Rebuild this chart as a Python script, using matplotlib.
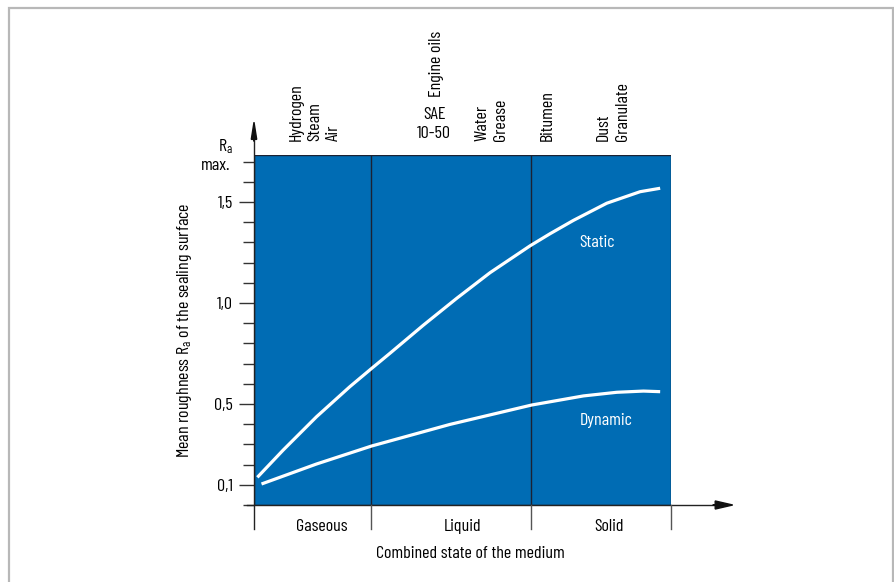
import matplotlib
matplotlib.use("Agg")
import matplotlib.pyplot as plt
from matplotlib.patches import Rectangle, FancyArrow
from matplotlib.ticker import FixedLocator, FixedFormatter

font = 'Barlow Condensed'
plt.rcParams['font.family'] = [font, 'DejaVu Sans']
plt.rcParams['mathtext.fontset'] = 'custom'
plt.rcParams['mathtext.rm'] = font
plt.rcParams['mathtext.it'] = font

# --- datos ---
static_x = [0.08, 0.70, 1.50, 2.30, 2.82, 3.26, 4.06, 4.86, 5.66, 6.62, 7.10, 7.66, 8.46, 9.26, 9.74]
static_y = [0.137, 0.272, 0.437, 0.586, 0.676, 0.751, 0.890, 1.023, 1.150, 1.283, 1.343,
            1.409, 1.494, 1.551, 1.568]
dynamic_x = [0.18, 1.50, 2.82, 4.70, 6.66, 7.90, 8.70, 9.34, 9.74]
dynamic_y = [0.104, 0.203, 0.292, 0.399, 0.495, 0.540, 0.558, 0.564, 0.561]

region_edges = [0, 2.81, 6.64, 10]
region_names = ['Gaseous', 'Liquid', 'Solid']
region_label_x = [1.63, 4.99, 8.51]

ytick_vals = [0.1, 0.5, 1.0, 1.5]
ytick_labels = ['0,1', '0,5', '1,0', '1,5']
yminor_vals = [0.0, 0.2, 0.3, 0.4, 0.6, 0.7, 0.8, 0.9, 1.1, 1.2, 1.3, 1.4, 1.6, 1.7]

blue = '#006cb4'
dark = '#1b2233'
W, H = 894, 582
fs = 13

def fx(px):
    return px / W

def fy(py):
    return 1 - py / H

fig = plt.figure(figsize=(W / 100, H / 100), dpi=100)
fig.patch.set_facecolor('white')

# marco gris
fig.patches.append(Rectangle((fx(9), fy(600)), fx(893) - fx(9), fy(8) - fy(600),
                             transform=fig.transFigure, fill=False,
                             edgecolor='#b8b8b8', lw=1.6))

ax = fig.add_axes([fx(254), fy(505), fx(671) - fx(254), fy(155) - fy(505)])
top = 350 / 202
ax.set_xlim(0, 10)
ax.set_ylim(0, top)
ax.set_facecolor(blue)
for s in ax.spines.values():
    s.set_visible(False)

# borde del rectángulo azul y divisores
ax.add_patch(Rectangle((0, 0), 10, top, fill=False, edgecolor=dark, lw=1.0, zorder=3))
for xe in region_edges[1:-1]:
    ax.plot([xe, xe], [0, top], color=dark, lw=1.0, zorder=3)

# curvas
ax.plot(static_x, static_y, color='white', lw=2.3, solid_capstyle='butt',
        solid_joinstyle='round', zorder=4)
ax.plot(dynamic_x, dynamic_y, color='white', lw=2.3, solid_capstyle='butt',
        solid_joinstyle='round', zorder=4)
ax.text(7.8, 1.30, 'Static', color='white', fontsize=fs, ha='left', va='center')
ax.text(7.8, 0.42, 'Dynamic', color='white', fontsize=fs, ha='left', va='center')

# ejes con flechas
ax.plot([-0.17, 11.1], [0, 0], color='#222222', lw=1.0, clip_on=False, zorder=5)
ax.add_patch(FancyArrow(11.0, 0, 0.48, 0, width=0.0, head_width=0.04, head_length=0.42,
                        length_includes_head=True, color='#111111', clip_on=False, zorder=5))
ax.plot([0, 0], [-0.119, 1.82], color='#222222', lw=1.0, clip_on=False, zorder=5)
ax.add_patch(FancyArrow(0, 1.80, 0, 0.095, width=0.0, head_width=0.13, head_length=0.085,
                        length_includes_head=True, color='#111111', clip_on=False, zorder=5))
for xe in region_edges[1:]:
    ax.plot([xe, xe], [0, -0.119], color='#555555', lw=1.0, clip_on=False, zorder=5)

ax.set_xticks([])
ax.yaxis.set_major_locator(FixedLocator(ytick_vals))
ax.yaxis.set_major_formatter(FixedFormatter(ytick_labels))
ax.yaxis.set_minor_locator(FixedLocator(yminor_vals))
ax.tick_params(axis='y', which='major', length=11, width=1.0, color='#333333',
               labelsize=fs, pad=4)
ax.tick_params(axis='y', which='minor', length=8, width=1.0, color='#333333')

for name, lx in zip(region_names, region_label_x):
    ax.text(lx, -0.105, name, fontsize=fs, ha='center', va='center')

fig.text(fx(470), fy(553), 'Combined state of the medium', fontsize=fs, ha='center', va='center')
fig.text(fx(184), fy(330), r'Mean roughness R$_\mathrm{a}$ of the sealing surface', fontsize=fs,
         rotation=90, ha='center', va='center')
fig.text(fx(225), fy(147), r'R$_\mathrm{a}$', fontsize=fs, ha='center', va='center')
fig.text(fx(216), fy(166), 'max.', fontsize=fs, ha='center', va='center')

# nombres de medios (arriba)
ls = 1.3
fig.text(fx(315), fy(141), 'Hydrogen\nSteam\nAir', fontsize=fs, rotation=90,
         ha='center', va='bottom', multialignment='left', linespacing=ls)
fig.text(fx(437), fy(97), 'Engine oils', fontsize=fs, rotation=90, ha='center', va='bottom')
fig.text(fx(434), fy(124), 'SAE\n10-50', fontsize=fs, ha='center', va='center', linespacing=ls)
fig.text(fx(491), fy(141), 'Water\nGrease', fontsize=fs, rotation=90,
         ha='center', va='bottom', multialignment='left', linespacing=ls)
fig.text(fx(547), fy(141), 'Bitumen', fontsize=fs, rotation=90, ha='center', va='bottom')
fig.text(fx(613), fy(141), 'Dust\nGranulate', fontsize=fs, rotation=90,
         ha='center', va='bottom', multialignment='left', linespacing=ls)

fig.savefig('out.png', dpi=100)
